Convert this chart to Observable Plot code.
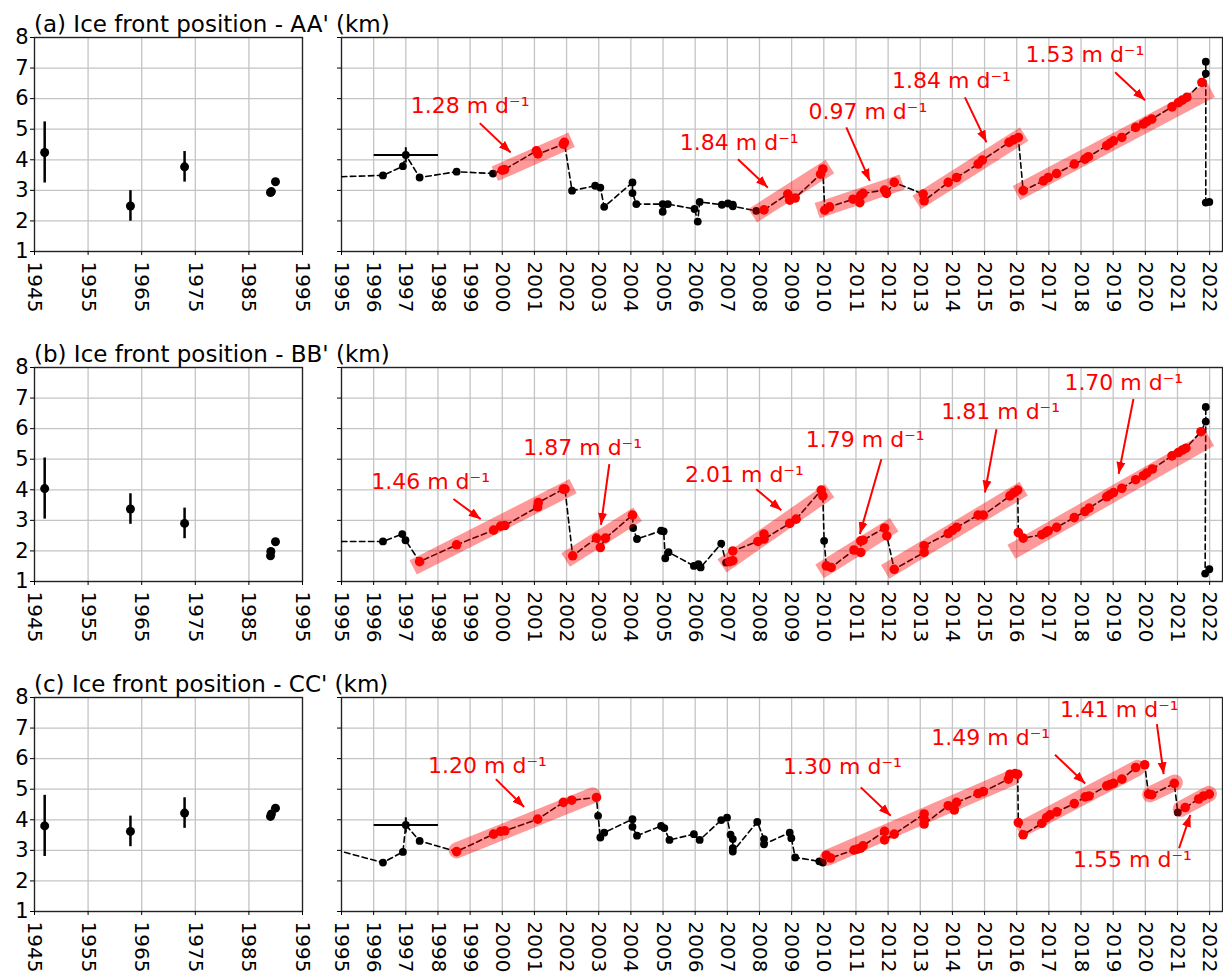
<!DOCTYPE html>
<html><head><meta charset="utf-8">
<script src="https://cdn.jsdelivr.net/npm/d3@7"></script>
<script src="https://cdn.jsdelivr.net/npm/@observablehq/plot@0.6"></script>
<style>
body{margin:0;background:#fff;}
#wrap{position:relative;width:1223px;height:977px;overflow:hidden;font-family:"DejaVu Sans",sans-serif;background:#fff;}
#wrap svg{position:absolute;}
.title{position:absolute;left:34px;font-size:23px;line-height:23px;white-space:nowrap;color:#000;z-index:5;font-family:"DejaVu Sans",sans-serif;}
</style></head><body><div id="wrap"></div>
<script>
// ---------------- DATA ----------------
const titles = ["(a) Ice front position - AA' (km)", "(b) Ice front position - BB' (km)", "(c) Ice front position - CC' (km)"];
const yTicks = [1, 2, 3, 4, 5, 6, 7, 8];
const xTicksLeft = [1945, 1955, 1965, 1975, 1985, 1995];
const xTicksRight = [1995,1996,1997,1998,1999,2000,2001,2002,2003,2004,2005,2006,2007,2008,2009,2010,2011,2012,2013,2014,2015,2016,2017,2018,2019,2020,2021,2022];

// historical positions: [year, km, error]
const histA = [[1946.9,4.24,1.0],[1962.9,2.49,0.5],[1973.0,3.77,0.5],[1989.03,2.93,0],[1989.2,2.96,0],[1989.96,3.28,0]];
const histB = [[1946.9,4.04,1.0],[1962.9,3.37,0.5],[1973.0,2.90,0.5],[1989.03,1.84,0],[1989.1,1.98,0],[1989.96,2.30,0]];
const histC = [[1946.9,3.80,1.0],[1962.9,3.62,0.5],[1973.0,4.22,0.5],[1989.03,4.11,0],[1989.2,4.19,0],[1989.96,4.38,0]];

// ice front series: [year, km, segment (0 = not in fitted segment)]
const frontA = [
[1996.29,3.49,0],[1996.91,3.79,0],[1997.0,4.16,0],[1997.43,3.42,0],[1998.58,3.61,0],[1999.71,3.55,0],
[2000.0,3.66,1],[2000.07,3.68,1],[2001.06,4.29,1],[2001.11,4.19,1],[2001.9,4.51,1],[2001.93,4.57,1],
[2002.17,2.99,0],[2002.89,3.15,0],[2003.05,3.09,0],[2003.17,2.46,0],[2004.05,3.26,0],[2004.05,2.91,0],[2004.17,2.55,0],
[2004.99,2.55,0],[2004.99,2.30,0],[2005.15,2.55,0],[2005.98,2.39,0],[2006.08,1.98,0],[2006.14,2.62,0],
[2006.83,2.53,0],[2007.02,2.57,0],[2007.17,2.53,0],[2007.17,2.48,0],[2007.9,2.33,0],
[2008.14,2.36,2],[2008.88,2.88,2],[2008.94,2.68,2],[2009.11,2.75,2],[2009.9,3.53,2],[2009.97,3.70,2],
[2010.03,2.35,3],[2010.18,2.46,3],[2010.91,2.71,3],[2011.12,2.60,3],[2011.15,2.84,3],[2011.22,2.90,3],[2011.89,3.01,3],[2011.95,2.90,3],[2012.19,3.26,3],
[2013.09,2.88,4],[2013.12,2.66,4],[2013.87,3.26,4],[2014.13,3.42,4],[2014.8,3.86,4],[2014.93,3.99,4],[2015.76,4.57,4],[2015.9,4.65,4],[2016.05,4.73,4],
[2016.2,2.99,5],[2016.83,3.31,5],[2016.98,3.42,5],[2017.24,3.55,5],[2017.79,3.86,5],[2018.12,4.02,5],[2018.23,4.10,5],[2018.8,4.46,5],[2018.9,4.54,5],
[2019.01,4.62,5],[2019.27,4.73,5],[2019.7,5.06,5],[2019.94,5.17,5],[2020.05,5.25,5],[2020.2,5.33,5],[2020.83,5.73,5],[2021.03,5.87,5],[2021.15,5.95,5],[2021.29,6.04,5],[2021.76,6.53,5],
[2021.88,6.82,0],[2021.88,7.21,0],[2021.88,2.60,0],[2021.99,2.62,0]];
const frontB = [
[1996.29,2.31,0],[1996.89,2.55,0],[1996.99,2.35,0],
[1997.43,1.65,1],[1998.58,2.20,1],[1999.73,2.68,1],[1999.95,2.81,1],[2000.08,2.83,1],[2001.1,3.44,1],[2001.12,3.58,1],[2001.9,4.02,1],[2001.95,4.02,1],
[2002.19,1.84,2],[2002.93,2.42,2],[2003.05,2.11,2],[2003.21,2.42,2],[2004.05,3.17,2],
[2004.07,2.75,0],[2004.19,2.39,0],[2004.94,2.66,0],[2005.02,2.64,0],[2005.07,1.76,0],[2005.17,1.96,0],[2005.96,1.51,0],[2006.1,1.57,0],[2006.17,1.46,0],[2006.81,2.24,0],[2006.96,1.62,0],
[2007.07,1.65,3],[2007.17,1.68,3],[2007.17,2.00,3],[2007.95,2.31,3],[2008.14,2.55,3],[2008.14,2.39,3],[2008.94,2.90,3],[2009.14,3.04,3],[2009.92,3.99,3],[2009.97,3.80,3],
[2010.01,2.33,0],
[2010.08,1.51,4],[2010.23,1.46,4],[2010.94,2.03,4],[2011.15,1.95,4],[2011.15,2.33,4],[2011.22,2.35,4],[2011.89,2.75,4],[2011.96,2.49,4],
[2012.19,1.40,5],[2013.12,1.95,5],[2013.12,2.17,5],[2013.87,2.57,5],[2014.0,2.67,5],[2014.13,2.77,5],[2014.8,3.17,5],[2014.96,3.17,5],[2015.79,3.80,5],[2015.9,3.90,5],[2016.03,3.99,5],
[2016.05,2.60,6],[2016.2,2.42,6],[2016.78,2.53,6],[2016.9,2.60,6],[2016.98,2.66,6],[2017.24,2.77,6],[2017.79,3.09,6],[2018.12,3.29,6],[2018.25,3.40,6],[2018.8,3.77,6],[2018.9,3.84,6],
[2019.01,3.91,6],[2019.27,4.05,6],[2019.7,4.33,6],[2019.94,4.46,6],[2020.05,4.55,6],[2020.22,4.68,6],[2020.83,5.11,6],[2021.03,5.22,6],[2021.15,5.30,6],[2021.26,5.36,6],[2021.73,5.90,6],
[2021.88,6.23,0],[2021.88,6.71,0],[2021.86,1.26,0],[2021.99,1.40,0]];
const frontC = [
[1996.29,2.60,0],[1996.91,2.95,0],[1997.0,3.83,0],[1997.43,3.31,0],
[1998.58,2.96,1],[1999.73,3.53,1],[1999.95,3.62,1],[2000.08,3.64,1],[2001.1,4.02,1],[2001.9,4.57,1],[2002.16,4.64,1],[2002.93,4.73,1],
[2002.98,4.13,0],[2003.05,3.42,0],[2003.17,3.58,0],[2004.05,4.02,0],[2004.05,3.77,0],[2004.19,3.48,0],[2004.94,3.80,0],[2005.04,3.73,0],[2005.2,3.34,0],
[2005.96,3.53,0],[2006.14,3.34,0],[2006.81,3.99,0],[2006.99,4.07,0],[2007.1,3.51,0],[2007.17,3.37,0],[2007.17,3.07,0],[2007.17,2.96,0],[2007.93,3.93,0],
[2008.14,3.37,0],[2008.14,3.20,0],[2008.94,3.58,0],[2008.99,3.40,0],[2009.11,2.77,0],[2009.86,2.64,0],[2009.97,2.60,0],
[2010.08,2.84,2],[2010.21,2.75,2],[2010.94,3.01,2],[2011.05,3.04,2],[2011.15,3.07,2],[2011.22,3.15,2],[2011.89,3.62,2],[2011.89,3.34,2],[2012.19,3.53,2],
[2013.12,4.19,2],[2013.12,4.02,2],[2013.12,3.86,2],[2013.87,4.46,2],[2014.06,4.32,2],[2014.13,4.57,2],[2014.8,4.86,2],[2014.96,4.92,2],
[2015.74,5.33,2],[2015.79,5.49,2],[2015.95,5.51,2],[2016.03,5.49,2],
[2016.05,3.91,3],[2016.2,3.51,3],[2016.78,3.88,3],[2016.93,4.07,3],[2017.04,4.16,3],[2017.25,4.26,3],[2017.79,4.53,3],[2018.13,4.75,3],[2018.25,4.78,3],
[2018.8,5.11,3],[2018.9,5.15,3],[2019.01,5.19,3],[2019.27,5.33,3],[2019.7,5.71,3],[2019.98,5.80,3],
[2020.1,4.84,4],[2020.2,4.82,4],[2020.9,5.19,4],
[2021.01,4.24,0],
[2021.24,4.40,5],[2021.66,4.68,5],[2021.81,4.78,5],[2021.99,4.84,5]];

// error bars on 1997 point: [year, km, xerr (yr), yerr (km)]
const errA = [[1997.0, 4.16, 1.0, 0.25]];
const errB = [];
const errC = [[1997.0, 3.83, 1.0, 0.25]];

// linear fit bands: [x1, y1, x2, y2]
const bandsA = [[2000.0,3.65,2001.93,4.55],[2008.0,2.31,2009.98,3.64],[2010.03,2.42,2012.2,3.19],[2013.1,2.74,2016.02,4.70],[2016.21,3.03,2021.83,6.16]];
const bandsB = [[1997.45,1.58,2001.98,4.00],[2002.18,1.84,2004.0,3.06],[2007.04,1.66,2009.98,3.82],[2010.08,1.47,2011.98,2.72],[2012.12,1.45,2016.0,3.90],[2016.05,2.10,2021.8,5.54]];
const bandsC = [[1998.58,3.0,2002.81,4.80],[2010.12,2.76,2015.84,5.37],[2016.27,3.76,2019.76,5.70],[2020.15,4.83,2020.92,5.22],[2021.1,4.35,2021.98,4.85]];

// rate labels: [x, y, rate]
const labelsA = [[1999.0,5.77,"1.28"],[2007.37,4.55,"1.84"],[2011.37,5.55,"0.97"],[2013.97,6.58,"1.84"],[2018.12,7.42,"1.53"]];
const labelsB = [[1997.77,4.26,"1.46"],[2002.5,5.36,"1.87"],[2007.53,4.49,"2.01"],[2011.29,5.63,"1.79"],[2015.5,6.55,"1.81"],[2019.33,7.50,"1.70"]];
const labelsC = [[1999.54,5.77,"1.20"],[2010.58,5.73,"1.30"],[2015.19,6.68,"1.49"],[2019.19,7.60,"1.41"],[2019.6,2.69,"1.55"]];

// arrows: [x1, y1, x2, y2]
const arrowsA = [[1999.3,5.2,2000.26,4.24],[2007.33,4.02,2008.26,3.09],[2010.7,5.06,2011.43,3.31],[2014.39,6.04,2015.06,4.57],[2019.06,6.86,2019.99,5.95]];
const arrowsB = [[1998.48,3.70,1999.33,3.04],[2003.33,4.84,2003.07,2.85],[2007.9,4.02,2008.68,3.33],[2011.79,5.0,2011.12,2.55],[2015.37,5.98,2015.01,3.91],[2019.63,6.97,2019.17,4.52]];
const arrowsC = [[1999.8,5.33,2000.68,4.42],[2011.15,5.06,2012.08,4.13],[2017.19,6.13,2018.13,5.19],[2020.36,7.13,2020.57,5.49],[2021.05,3.07,2021.4,4.16]];

// ---------------- DRAWING ----------------
const FONT = "DejaVu Sans";
const GRID = {stroke: "#c4c4c4", strokeOpacity: 1, strokeWidth: 1.3};
const PLOT_H = 214, MT = 30, MB = 62;

function headMarker(color) {
  const ns = "http://www.w3.org/2000/svg";
  const m = document.createElementNS(ns, "marker");
  m.setAttribute("viewBox", "-12 -5 12 10");
  m.setAttribute("markerWidth", "12");
  m.setAttribute("markerHeight", "10");
  m.setAttribute("markerUnits", "userSpaceOnUse");
  m.setAttribute("orient", "auto");
  const p = document.createElementNS(ns, "path");
  p.setAttribute("d", "M-12,-4.5L0,0L-12,4.5Z");
  p.setAttribute("fill", color);
  p.setAttribute("stroke", "none");
  m.appendChild(p);
  return m;
}

function leftPanel(hist) {
  return Plot.plot({
    width: 322, height: MT + PLOT_H + MB,
    marginLeft: 34, marginRight: 20, marginTop: MT, marginBottom: MB,
    style: {fontFamily: FONT, fontSize: "20px", color: "black", background: "none", overflow: "visible"},
    x: {domain: [1945, 1995], label: null},
    y: {domain: [1, 8], label: null},
    marks: [
      Plot.gridX(xTicksLeft, GRID),
      Plot.gridY(yTicks, GRID),
      Plot.frame({stroke: "#222", strokeWidth: 1.3}),
      Plot.axisY(yTicks, {tickSize: 4, tickPadding: 2, label: null, tickFormat: d => String(d), fontSize: 21}),
      Plot.axisX(xTicksLeft, {tickSize: 4, tickPadding: 6, tickRotate: 90, label: null, tickFormat: d => String(d), fontSize: 20}),
      Plot.ruleX(hist.filter(d => d[2] > 0), {x: d => d[0], y1: d => d[1] - d[2], y2: d => d[1] + d[2], stroke: "black", strokeWidth: 2.5}),
      Plot.dot(hist, {x: d => d[0], y: d => d[1], r: 4.5, fill: "black"})
    ]
  });
}

function rightPanel(front, hist, errs, bands, labels, arrows, cap, useMarker) {
  const lineData = [hist[hist.length - 1], ...front];
  const arrowMark = useMarker
    ? Plot.link(arrows, {x1: d => d[0], y1: d => d[1], x2: d => d[2], y2: d => d[3], stroke: "red", strokeWidth: 2, markerEnd: headMarker})
    : Plot.arrow(arrows, {x1: d => d[0], y1: d => d[1], x2: d => d[2], y2: d => d[3], stroke: "red", strokeWidth: 2, headLength: 11, headAngle: 45});
  return Plot.plot({
    width: 913, height: MT + PLOT_H + MB,
    marginLeft: 31, marginRight: 1, marginTop: MT, marginBottom: MB,
    style: {fontFamily: FONT, fontSize: "20px", color: "black", background: "none", overflow: "visible"},
    x: {domain: [1995, 2022.4], label: null},
    y: {domain: [1, 8], label: null},
    marks: [
      Plot.gridX(xTicksRight, GRID),
      Plot.gridY(yTicks, GRID),
      Plot.frame({stroke: "#222", strokeWidth: 1.3}),
      Plot.axisY(yTicks, {tickSize: 4, label: null, tickFormat: () => ""}),
      Plot.axisX(xTicksRight, {tickSize: 4, tickPadding: 6, tickRotate: 90, label: null, tickFormat: d => String(d), fontSize: 20}),
      Plot.line(lineData, {x: d => d[0], y: d => d[1], stroke: "black", strokeWidth: 1.6, strokeDasharray: "5.5,3.5", clip: true}),
      Plot.link(errs, {x1: d => d[0] - d[2], x2: d => d[0] + d[2], y1: d => d[1], y2: d => d[1], stroke: "black", strokeWidth: 2}),
      Plot.link(errs, {x1: d => d[0], x2: d => d[0], y1: d => d[1] - d[3], y2: d => d[1] + d[3], stroke: "black", strokeWidth: 2}),
      Plot.dot(front.filter(d => d[2] === 0), {x: d => d[0], y: d => d[1], r: 3.9, fill: "black"}),
      Plot.link(bands, {x1: d => d[0], y1: d => d[1], x2: d => d[2], y2: d => d[3], stroke: "red", strokeOpacity: 0.4, strokeWidth: 16, strokeLinecap: cap}),
      Plot.dot(front.filter(d => d[2] > 0), {x: d => d[0], y: d => d[1], r: 4.8, fill: "red"}),
      arrowMark,
      Plot.text(labels, {x: d => d[0], y: d => d[1], text: d => `${d[2]} m d\u207B\u00B9`, fill: "red", fontSize: 22, fontFamily: FONT})
    ]
  });
}

const wrap = document.getElementById("wrap");
const rows = [
  {hist: histA, front: frontA, errs: errA, bands: bandsA, labels: labelsA, arrows: arrowsA, cap: "square"},
  {hist: histB, front: frontB, errs: errB, bands: bandsB, labels: labelsB, arrows: arrowsB, cap: "square"},
  {hist: histC, front: frontC, errs: errC, bands: bandsC, labels: labelsC, arrows: arrowsC, cap: "round"}
];
rows.forEach((r, i) => {
  const top = i * 330 + 6.7;
  const L = leftPanel(r.hist);
  L.style.left = "0px"; L.style.top = top + "px";
  wrap.appendChild(L);
  let R;
  try { R = rightPanel(r.front, r.hist, r.errs, r.bands, r.labels, r.arrows, r.cap, true); }
  catch (e) { R = rightPanel(r.front, r.hist, r.errs, r.bands, r.labels, r.arrows, r.cap, false); }
  R.style.left = "310px"; R.style.top = top + "px";
  wrap.appendChild(R);
  const t = document.createElement("div");
  t.className = "title";
  t.style.top = (i * 330 + 13) + "px";
  t.textContent = titles[i];
  wrap.appendChild(t);
});
</script></body></html>
